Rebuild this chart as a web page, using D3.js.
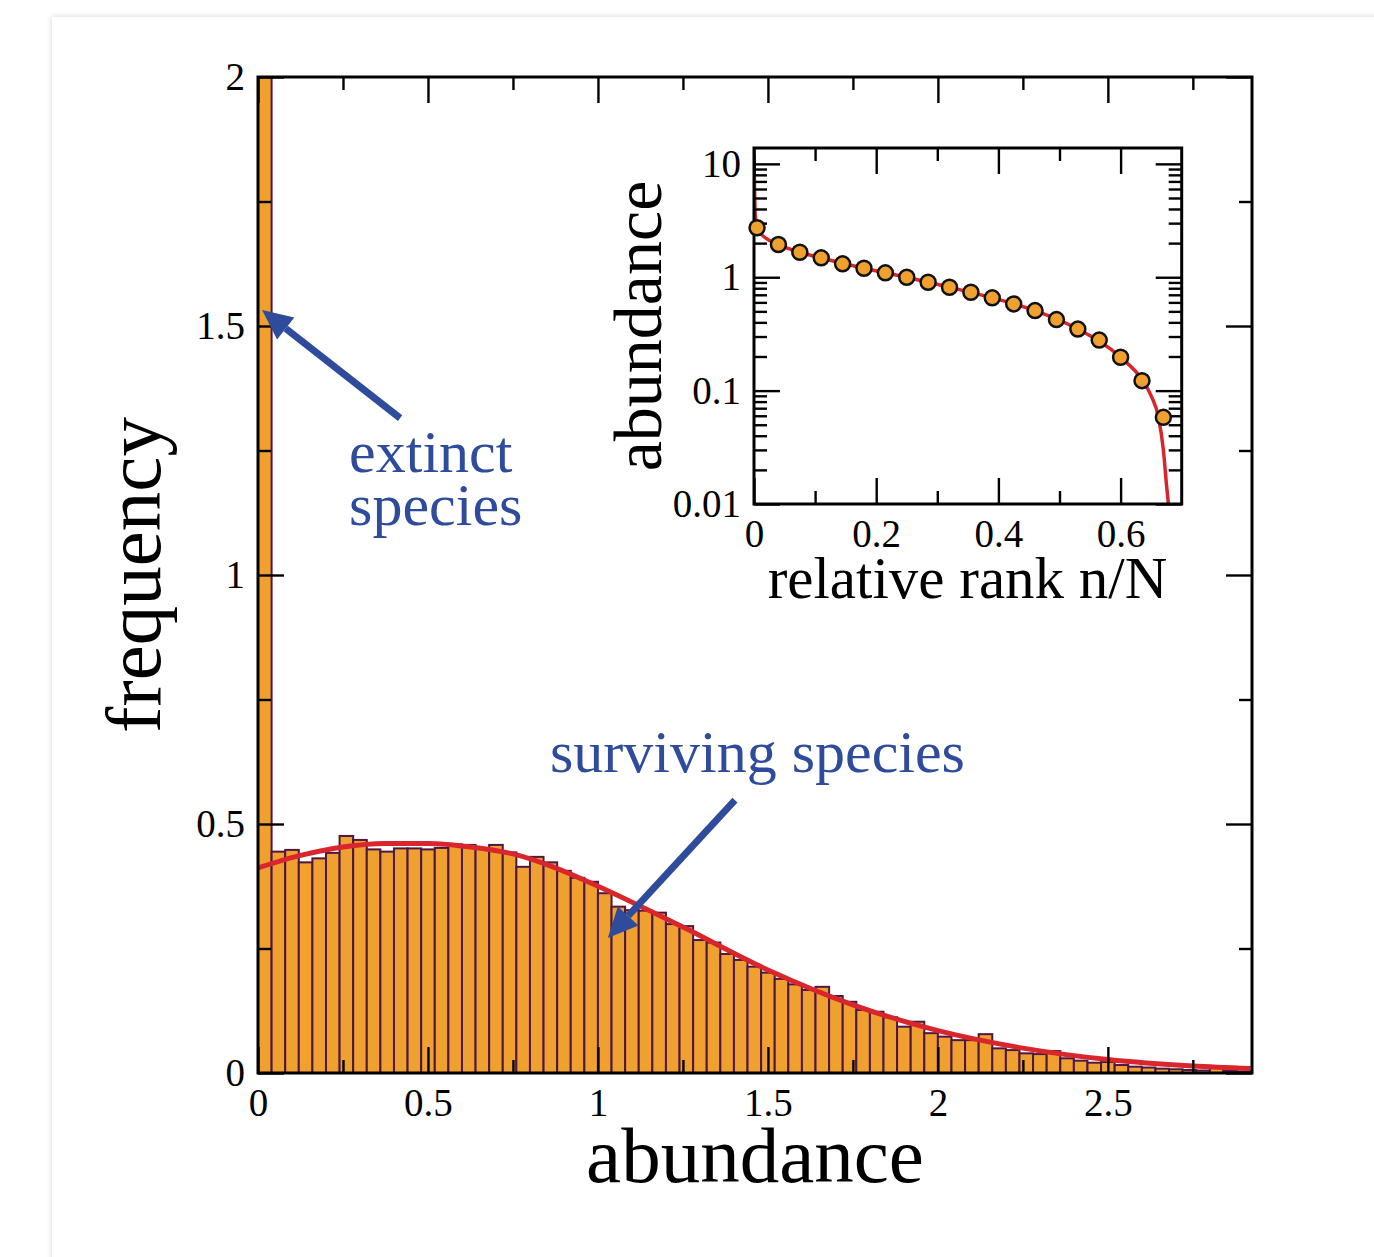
<!DOCTYPE html>
<html>
<head>
<meta charset="utf-8">
<script src="https://cdn.jsdelivr.net/npm/d3@7"></script>
<style>
  body { margin: 0; background: #fff; overflow: hidden; }
  #card { position: absolute; left: 52px; top: 17px; width: 1400px; height: 1300px;
          background: #fff; box-shadow: 0 0 6px rgba(0,0,0,0.18); }
  #chart { position: absolute; left: 0; top: 0; }
</style>
</head>
<body>
<div id="card"></div>
<div id="chart"></div>
<script>
// histogram: bin width 0.04, first bin holds the extinct species (off the scale)
var binWidth = 0.04;
var freq = [2.6,
  0.4445, 0.448, 0.423, 0.431, 0.442, 0.476, 0.468, 0.449, 0.4445, 0.451, 0.451, 0.449,
  0.452, 0.459, 0.458, 0.450, 0.458, 0.443, 0.414, 0.434, 0.423, 0.406, 0.392, 0.384,
  0.361, 0.334, 0.327, 0.326, 0.322, 0.299, 0.295, 0.267, 0.262, 0.239, 0.227, 0.2135,
  0.2015, 0.189, 0.178, 0.1667, 0.173, 0.1546, 0.143,
  0.1265, 0.123, 0.112, 0.093, 0.103, 0.080, 0.073, 0.066, 0.066, 0.078,
  0.0495, 0.046, 0.0395, 0.038, 0.044, 0.0295, 0.0248, 0.0207, 0.022, 0.016, 0.0127,
  0.011, 0.0087, 0.0075, 0.006, 0.005, 0.013, 0.004, 0.003];

// red fitted curve
var fitX = [0, 0.125, 0.25, 0.375, 0.5, 0.625, 0.75, 0.875, 1.0, 1.25, 1.5, 1.75, 2.0, 2.25, 2.5, 2.75, 2.92];
var fitY = [0.412, 0.437, 0.454, 0.461, 0.461, 0.454, 0.440, 0.412, 0.375, 0.293, 0.207, 0.137, 0.085, 0.05, 0.027, 0.014, 0.009];

// inset: rank-abundance points and curve
var rankX = [0.005, 0.04, 0.075, 0.11, 0.145, 0.18, 0.215, 0.25, 0.285, 0.32,
             0.355, 0.39, 0.425, 0.46, 0.495, 0.53, 0.565, 0.6, 0.635, 0.67];
var rankY = [2.73, 1.944, 1.662, 1.483, 1.313, 1.20, 1.093, 1.0, 0.903, 0.816,
             0.737, 0.658, 0.582, 0.508, 0.423, 0.349, 0.279, 0.197, 0.1225, 0.0581];
var rankLineX = [0, 0.002, 0.005, 0.02, 0.04, 0.075, 0.11, 0.18, 0.25, 0.32, 0.39, 0.46,
                 0.53, 0.6, 0.635, 0.65, 0.662, 0.67, 0.675, 0.68];
var rankLineY = [12, 3.6, 2.7, 2.2, 1.94, 1.66, 1.48, 1.2, 1.0, 0.816, 0.658, 0.508,
                 0.349, 0.197, 0.125, 0.09, 0.058, 0.03, 0.015, 0.008];

// tick values
var xMajor = [0, 0.5, 1, 1.5, 2, 2.5];
var xMinor = [0.25, 0.75, 1.25, 1.75, 2.25, 2.75];
var yMajor = [0, 0.5, 1, 1.5, 2];
var yMinor = [0.25, 0.75, 1.25, 1.75];
var ixMajor = [0, 0.2, 0.4, 0.6];
var ixMinor = [0.1, 0.3, 0.5];
var iyMajor = [0.01, 0.1, 1, 10];
var iyMinor = [0.02, 0.03, 0.04, 0.05, 0.06, 0.07, 0.08, 0.09,
               0.2, 0.3, 0.4, 0.5, 0.6, 0.7, 0.8, 0.9,
               2, 3, 4, 5, 6, 7, 8, 9];

// annotations [text, x, y] in data units of the main plot
var notes = [["extinct", 0.268, 1.207], ["species", 0.268, 1.1], ["surviving species", 0.859, 0.604]];
var arrows = [[0.418, 1.315, 0.012, 1.532], [1.403, 0.548, 1.029, 0.271]];

var serif = "'Liberation Serif', 'Times New Roman', Times, serif";
var orange = "#f0a02e", plum = "#4e1743", red = "#d9262c", blue = "#2f4c9c";

var svg = d3.select("#chart").append("svg")
    .attr("width", 1374).attr("height", 1257);

var x = d3.scaleLinear().domain([0, 2.924]).range([258, 1252]);
var y = d3.scaleLinear().domain([0, 2]).range([1073, 77]);

svg.append("clipPath").attr("id", "mainclip").append("rect")
    .attr("x", 258).attr("y", 77).attr("width", 994).attr("height", 996);

var plot = svg.append("g").attr("clip-path", "url(#mainclip)");

plot.selectAll("rect.bar")
    .data(freq)
    .enter()
    .append("rect")
    .attr("class", "bar")
    .attr("x", function(d, i) { return x(i * binWidth); })
    .attr("width", function(d, i) { return x((i + 1) * binWidth) - x(i * binWidth); })
    .attr("y", function(d) { return y(d); })
    .attr("height", function(d) { return y(0) - y(d); })
    .attr("fill", orange)
    .attr("stroke", plum)
    .attr("stroke-width", 2);

plot.append("path")
    .datum(d3.zip(fitX, fitY))
    .attr("fill", "none")
    .attr("stroke", red)
    .attr("stroke-width", 5)
    .attr("d", d3.line()
        .x(function(d) { return x(d[0]); })
        .y(function(d) { return y(d[1]); })
        .curve(d3.curveMonotoneX));

// axes with inward ticks
function styleAxis(g, labelled) {
  g.select(".domain").remove();
  g.selectAll("line").attr("stroke", "#000").attr("stroke-width", 2.4);
  g.attr("font-family", serif).attr("font-size", 39).attr("fill", "#000");
  if (labelled) g.selectAll("text").attr("fill", "#000");
  else g.selectAll("text").remove();
}
var fmt = d3.format("~g");

function frameAxes(sx, sy, xMaj, xMin, yMaj, yMin, left, right, top, bottom) {
  var g;
  g = svg.append("g").attr("transform", "translate(0," + bottom + ")")
      .call(d3.axisBottom(sx).tickValues(xMaj).tickSize(-26).tickPadding(15).tickFormat(fmt));
  styleAxis(g, true);
  g = svg.append("g").attr("transform", "translate(0," + bottom + ")")
      .call(d3.axisBottom(sx).tickValues(xMin).tickSize(-13));
  styleAxis(g, false);
  g = svg.append("g").attr("transform", "translate(0," + top + ")")
      .call(d3.axisTop(sx).tickValues(xMaj).tickSize(-26));
  styleAxis(g, false);
  g = svg.append("g").attr("transform", "translate(0," + top + ")")
      .call(d3.axisTop(sx).tickValues(xMin).tickSize(-13));
  styleAxis(g, false);
  g = svg.append("g").attr("transform", "translate(" + left + ",0)")
      .call(d3.axisLeft(sy).tickValues(yMaj).tickSize(-26).tickPadding(13).tickFormat(fmt));
  styleAxis(g, true);
  g = svg.append("g").attr("transform", "translate(" + left + ",0)")
      .call(d3.axisLeft(sy).tickValues(yMin).tickSize(-13));
  styleAxis(g, false);
  g = svg.append("g").attr("transform", "translate(" + right + ",0)")
      .call(d3.axisRight(sy).tickValues(yMaj).tickSize(-26));
  styleAxis(g, false);
  g = svg.append("g").attr("transform", "translate(" + right + ",0)")
      .call(d3.axisRight(sy).tickValues(yMin).tickSize(-13));
  styleAxis(g, false);
  svg.append("rect")
      .attr("x", left).attr("y", top)
      .attr("width", right - left).attr("height", bottom - top)
      .attr("fill", "none").attr("stroke", "#000").attr("stroke-width", 3);
}

frameAxes(x, y, xMajor, xMinor, yMajor, yMinor, 258, 1252, 77, 1073);

// annotation arrows
arrows.forEach(function(a) {
  var x0 = x(a[0]), y0 = y(a[1]), x1 = x(a[2]), y1 = y(a[3]);
  var ang = Math.atan2(y1 - y0, x1 - x0);
  var hl = 30, hw = 14;
  var bx = x1 - hl * Math.cos(ang), by = y1 - hl * Math.sin(ang);
  svg.append("line")
      .attr("x1", x0).attr("y1", y0).attr("x2", bx).attr("y2", by)
      .attr("stroke", blue).attr("stroke-width", 7);
  svg.append("polygon")
      .attr("points", [[x1, y1],
        [bx + hw * Math.sin(ang), by - hw * Math.cos(ang)],
        [bx - hw * Math.sin(ang), by + hw * Math.cos(ang)]].join(" "))
      .attr("fill", blue);
});

svg.selectAll("text.note")
    .data(notes)
    .enter()
    .append("text")
    .attr("class", "note")
    .attr("x", function(d) { return x(d[1]); })
    .attr("y", function(d) { return y(d[2]); })
    .attr("font-family", serif)
    .attr("font-size", 60)
    .attr("fill", blue)
    .text(function(d) { return d[0]; });

// axis titles
svg.append("text")
    .attr("x", 755).attr("y", 1182)
    .attr("text-anchor", "middle")
    .attr("font-family", serif).attr("font-size", 79)
    .text("abundance");
svg.append("text")
    .attr("transform", "translate(160,575) rotate(-90)")
    .attr("text-anchor", "middle")
    .attr("font-family", serif).attr("font-size", 79)
    .text("frequency");

// inset
var xi = d3.scaleLinear().domain([0, 0.7]).range([754, 1181.7]);
var yi = d3.scaleLog().domain([0.01, 13.8]).range([504, 148]);

svg.append("rect")
    .attr("x", 754).attr("y", 148).attr("width", 427.7).attr("height", 356)
    .attr("fill", "#fff");

svg.append("clipPath").attr("id", "insetclip").append("rect")
    .attr("x", 754).attr("y", 148).attr("width", 427.7).attr("height", 356);

svg.append("g").attr("clip-path", "url(#insetclip)")
    .append("path")
    .datum(d3.zip(rankLineX, rankLineY))
    .attr("fill", "none")
    .attr("stroke", red)
    .attr("stroke-width", 3.5)
    .attr("d", d3.line()
        .x(function(d) { return xi(d[0]); })
        .y(function(d) { return yi(d[1]); })
        .curve(d3.curveMonotoneX));

frameAxes(xi, yi, ixMajor, ixMinor, iyMajor, iyMinor, 754, 1181.7, 148, 504);

svg.selectAll("circle.rank")
    .data(d3.zip(rankX, rankY))
    .enter()
    .append("circle")
    .attr("class", "rank")
    .attr("cx", function(d) { return xi(d[0]); })
    .attr("cy", function(d) { return yi(d[1]); })
    .attr("r", 7.5)
    .attr("fill", orange)
    .attr("stroke", "#111")
    .attr("stroke-width", 2.5);

svg.append("text")
    .attr("x", 967.5).attr("y", 598)
    .attr("text-anchor", "middle")
    .attr("font-family", serif).attr("font-size", 59)
    .text("relative rank n/N");
svg.append("text")
    .attr("transform", "translate(661,326) rotate(-90)")
    .attr("text-anchor", "middle")
    .attr("font-family", serif).attr("font-size", 68)
    .text("abundance");
</script>
</body>
</html>
